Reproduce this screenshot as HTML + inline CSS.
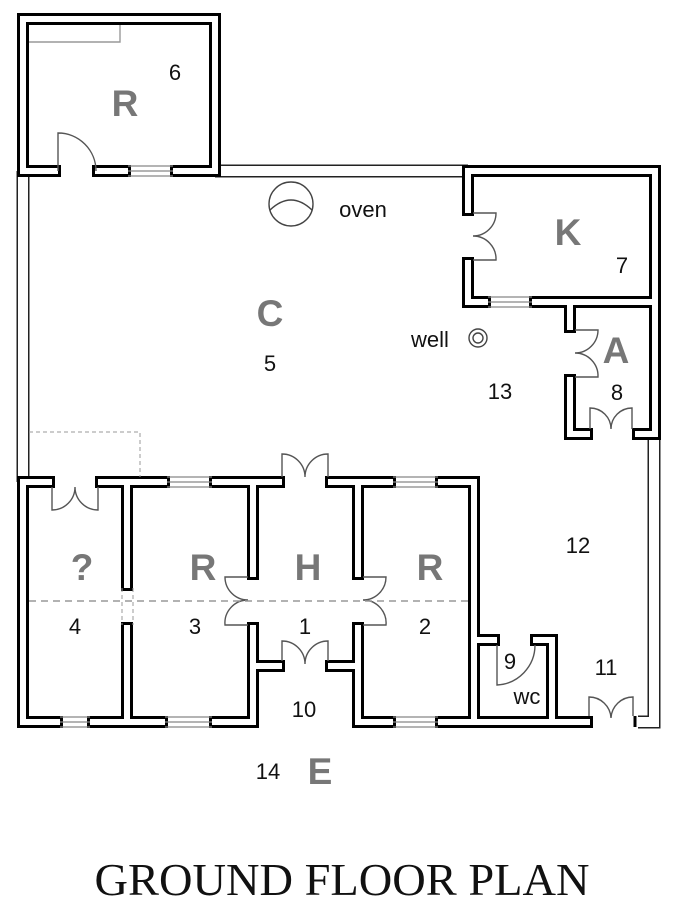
<!DOCTYPE html>
<html><head><meta charset="utf-8"><style>
html,body{margin:0;padding:0;background:#fff;width:698px;height:910px;overflow:hidden}
svg{display:block}
.t{font-family:"Liberation Sans",sans-serif;fill:#111;font-size:22px;text-anchor:middle}
.b{font-family:"Liberation Sans",sans-serif;fill:#777;font-size:37px;font-weight:bold;text-anchor:middle}
</style></head><body>
<svg width="698" height="910" viewBox="0 0 698 910" xmlns="http://www.w3.org/2000/svg">
<g fill="none" stroke-linecap="butt">
<g stroke="#222" stroke-width="13">
<path d="M23,171 V482"/><path d="M215,171 H468"/><path d="M654,434 V722 H638"/>
</g>
<g stroke="#fff" stroke-width="10">
<path d="M23,171 V482"/><path d="M215,171 H468"/><path d="M654,434 V722 H638"/>
</g>
</g>
<g fill="none" stroke-linecap="square" stroke-linejoin="miter">
<g stroke="#000" stroke-width="12">
<path d="M55,171 H23 V19 H215 V171 H176"/>
<path d="M98,171 H125"/>
<path d="M468,210 V171 H655 V434 H638"/>
<path d="M468,263 V302 H485"/>
<path d="M535,302 H655"/>
<path d="M570,302 V327"/>
<path d="M570,380 V434 H587"/>
<path d="M49,482 H23 V722 H57"/>
<path d="M101,482 H164"/><path d="M215,482 H279"/><path d="M331,482 H390"/>
<path d="M441,482 H474 V722"/>
<path d="M127,482 V585"/><path d="M127,628 V722"/>
<path d="M93,722 H162"/>
<path d="M215,722 H253 V628"/><path d="M253,574 V482"/>
<path d="M358,482 V574"/><path d="M358,628 V722 H390"/>
<path d="M441,722 H587"/>
<path d="M253,666 H279"/><path d="M331,666 H358"/>
<path d="M474,640 H494"/>
<path d="M536,640 H552 V722"/>
</g>
<g stroke="#fff" stroke-width="6">
<path d="M55,171 H23 V19 H215 V171 H176"/>
<path d="M98,171 H125"/>
<path d="M468,210 V171 H655 V434 H638"/>
<path d="M468,263 V302 H485"/>
<path d="M535,302 H655"/>
<path d="M570,302 V327"/>
<path d="M570,380 V434 H587"/>
<path d="M49,482 H23 V722 H57"/>
<path d="M101,482 H164"/><path d="M215,482 H279"/><path d="M331,482 H390"/>
<path d="M441,482 H474 V722"/>
<path d="M127,482 V585"/><path d="M127,628 V722"/>
<path d="M93,722 H162"/>
<path d="M215,722 H253 V628"/><path d="M253,574 V482"/>
<path d="M358,482 V574"/><path d="M358,628 V722 H390"/>
<path d="M441,722 H587"/>
<path d="M253,666 H279"/><path d="M331,666 H358"/>
<path d="M474,640 H494"/>
<path d="M536,640 H552 V722"/>
</g>
</g>
<path d="M635,716 V727" stroke="#000" stroke-width="3"/>
<g stroke="#888" stroke-width="1.3" fill="none">
<path d="M128,166H173M128,171H173M128,176H173"/>
<path d="M488,297H532M488,302H532M488,307H532"/>
<path d="M167,477H212M167,482H212M167,487H212"/>
<path d="M393,477H438M393,482H438M393,487H438"/>
<path d="M60,717H90M60,722H90M60,727H90"/>
<path d="M165,717H212M165,722H212M165,727H212"/>
<path d="M393,717H438M393,722H438M393,727H438"/>
</g>
<g stroke="#555" stroke-width="1.4" fill="none">
<path d="M58,171 V133 A38,38 0 0 1 96,171"/>
<path d="M52,487 V510 A23,23 0 0 0 75,487 A23,23 0 0 0 98,510 V487"/>
<path d="M282,477 V454 A23,23 0 0 1 305,477 A23,23 0 0 1 328,454 V477"/>
<path d="M282,661 V641 A23,23 0 0 1 305,664 A23,23 0 0 1 328,641 V661"/>
<path d="M590,429 V408 A21,21 0 0 1 611,429 A21,21 0 0 1 632,408 V429"/>
<path d="M589,716 V697 A22,22 0 0 1 611,718 A22,22 0 0 1 633,697 V716"/>
<path d="M473,213 H496 A23,23 0 0 1 473,236 A23,23 0 0 1 496,260 H473"/>
<path d="M575,330 H598 A23,23 0 0 1 575,353 A23,23 0 0 1 598,377 H575"/>
<path d="M248,577 H225 A23,23 0 0 0 248,600 A23,23 0 0 0 225,625 H248"/>
<path d="M363,577 H386 A23,23 0 0 1 363,600 A23,23 0 0 1 386,625 H363"/>
<path d="M497,645 V685 A40,40 0 0 0 535,645"/>
<path d="M29,42 H120 V25" stroke="#999"/>
</g>
<g stroke="#999" stroke-width="1.6" fill="none" stroke-dasharray="7,5">
<path d="M29,601 H468"/>
<path d="M29,432 H140 V477" stroke-width="1" stroke-dasharray="4,3"/>
<path d="M122,588 V625 M133,588 V625" stroke-width="1" stroke-dasharray="4,3"/>
</g>
<g stroke="#444" stroke-width="1.4" fill="none">
<circle cx="291" cy="204" r="22"/>
<path d="M270,210 Q291,190 312,210"/>
<circle cx="478" cy="338" r="9"/><circle cx="478" cy="338" r="5"/>
</g>
<text class="b" x="125" y="116">R</text>
<text class="t" x="175" y="80">6</text>
<text class="t" x="363" y="217">oven</text>
<text class="b" x="270" y="326">C</text>
<text class="t" x="270" y="371">5</text>
<text class="b" x="568" y="245">K</text>
<text class="t" x="622" y="273">7</text>
<text class="t" x="430" y="347">well</text>
<text class="b" x="616" y="363">A</text>
<text class="t" x="500" y="399">13</text>
<text class="t" x="617" y="400">8</text>
<text class="t" x="578" y="553">12</text>
<text class="b" x="82" y="580">?</text>
<text class="b" x="203" y="580">R</text>
<text class="b" x="308" y="580">H</text>
<text class="b" x="430" y="580">R</text>
<text class="t" x="75" y="634">4</text>
<text class="t" x="195" y="634">3</text>
<text class="t" x="305" y="634">1</text>
<text class="t" x="425" y="634">2</text>
<text class="t" x="510" y="669">9</text>
<text class="t" x="527" y="704">wc</text>
<text class="t" x="606" y="675">11</text>
<text class="t" x="304" y="717">10</text>
<text class="t" x="268" y="779">14</text>
<text class="b" x="320" y="784">E</text>
<text x="342" y="895" font-family="'Liberation Serif',serif" font-size="46" fill="#111" text-anchor="middle" textLength="495" lengthAdjust="spacingAndGlyphs">GROUND FLOOR PLAN</text>
</svg>
</body></html>
